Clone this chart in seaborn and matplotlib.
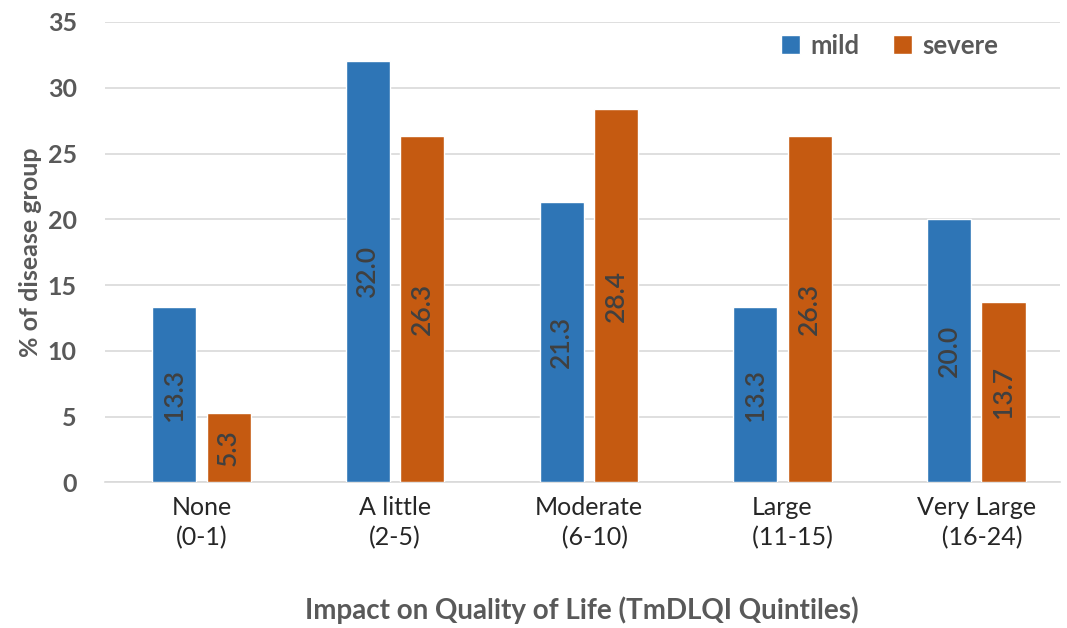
import pandas as pd
import seaborn as sns
import matplotlib.pyplot as plt

sns.set_theme(style="white")
plt.rcParams['font.family'] = ['Lato', 'DejaVu Sans']

# data
categories = ["None\n(0-1)", "A little\n(2-5)", "Moderate\n  (6-10)",
              "Large\n   (11-15)", "Very Large\n  (16-24)"]
mild = [13.3, 32.0, 21.3, 13.3, 20.0]
severe = [5.3, 26.3, 28.4, 26.3, 13.7]
groups = ["mild", "severe"]

df = pd.DataFrame({
    "category": categories * 2,
    "group": ["mild"] * len(mild) + ["severe"] * len(severe),
    "value": mild + severe,
})

text_color = "#595959"
palette = {"mild": "#2E75B6", "severe": "#C55A11"}

fig, ax = plt.subplots(figsize=(10.67, 6.28), dpi=100)
fig.subplots_adjust(left=0.098, right=0.993, top=0.965, bottom=0.232)

sns.barplot(data=df, x="category", y="value", hue="group", hue_order=groups,
            palette=palette, width=0.5625, gap=0.19, saturation=1,
            errorbar=None, ax=ax, zorder=3)

# value labels, rotated inside the bars
for cont in ax.containers:
    labels = [f"{b.get_height():.1f}" for b in cont]
    ax.bar_label(cont, labels=labels, label_type="center", rotation=90,
                 fontsize=19, color="#404040", fontweight="semibold")

ax.set_xlim(-0.5, 4.43)
ax.set_ylim(0, 35)
ax.set_yticks(range(0, 36, 5))
ax.yaxis.grid(True, color="#D9D9D9", linewidth=1.2, zorder=0)
ax.set_axisbelow(True)
for s in ["top", "right", "left"]:
    ax.spines[s].set_visible(False)
ax.spines["bottom"].set_color("#D9D9D9")
ax.spines["bottom"].set_linewidth(1.2)

ax.tick_params(axis="y", length=0, pad=20, labelsize=18, labelcolor=text_color)
for t in ax.get_yticklabels():
    t.set_fontweight("bold")
ax.tick_params(axis="x", length=0, pad=10, labelsize=18, labelcolor="#262626")
for t in ax.get_xticklabels():
    t.set_multialignment("center")
    t.set_linespacing(1.35)

ax.set_ylabel("% of disease group", fontsize=18, fontweight="bold",
              color=text_color, labelpad=4)
ax.set_xlabel("Impact on Quality of Life (TmDLQI Quintiles)", fontsize=20,
              fontweight="bold", color=text_color, labelpad=34)

leg = ax.legend(loc="upper right", bbox_to_anchor=(0.96, 1.025), ncol=2,
                frameon=False, fontsize=18.5, handlelength=0.75,
                handleheight=0.75, handletextpad=0.4, columnspacing=1.3)
for t in leg.get_texts():
    t.set_color(text_color)
    t.set_fontweight("bold")

plt.savefig("out.png", dpi=100)
